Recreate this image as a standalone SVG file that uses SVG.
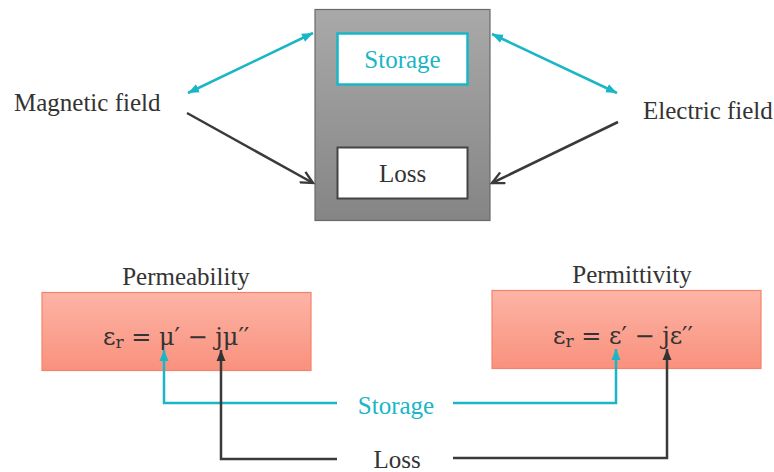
<svg xmlns="http://www.w3.org/2000/svg" width="774" height="472" viewBox="0 0 774 472">
  <defs>
    <linearGradient id="grayFill" x1="0" y1="0" x2="0" y2="1">
      <stop offset="0" stop-color="#a9a9a9"/>
      <stop offset="1" stop-color="#858585"/>
    </linearGradient>
    <linearGradient id="pinkFill" x1="0" y1="0" x2="0" y2="1">
      <stop offset="0" stop-color="#fdb4a6"/>
      <stop offset="1" stop-color="#f9917d"/>
    </linearGradient>
    <marker id="tealHead" markerUnits="userSpaceOnUse" markerWidth="12" markerHeight="10" refX="11" refY="5" orient="auto-start-reverse">
      <path d="M0,0.5 L11,5 L0,9.5 z" fill="#19b6c6"/>
    </marker>
    <marker id="darkHead" markerUnits="userSpaceOnUse" markerWidth="12" markerHeight="10" refX="11" refY="5" orient="auto">
      <path d="M0,0.5 L11,5 L0,9.5 z" fill="#333"/>
    </marker>
    <marker id="darkOpen" markerUnits="userSpaceOnUse" markerWidth="16" markerHeight="14" refX="13" refY="7" orient="auto">
      <path d="M1,1 L13,7 L1,13" fill="none" stroke="#3a3a3a" stroke-width="2.4"/>
    </marker>
  </defs>
  <style>
    text { font-family: 'Liberation Serif', 'Times New Roman', serif; }
    .txt { font-size: 25px; fill: #333; }
    .teal { fill: #19b6c6; }
    .math { font-family: 'DejaVu Serif', 'Liberation Serif', serif; font-size: 24px; fill: #333; }
    .tealLine { fill: none; stroke: #19b6c6; stroke-width: 2.5; }
    .darkLine { fill: none; stroke: #3a3a3a; stroke-width: 2.5; }
  </style>

  <rect width="774" height="472" fill="#ffffff"/>

  <!-- central material block -->
  <g id="material">
    <rect x="315" y="9.5" width="175" height="211" fill="url(#grayFill)" stroke="#6a6a6a" stroke-width="1.2"/>
  </g>
  <g id="storage-box">
    <rect x="337.5" y="33.5" width="130" height="51" fill="#ffffff" stroke="#19b6c6" stroke-width="2.5"/>
    <text class="txt teal" x="402.5" y="68" text-anchor="middle">Storage</text>
  </g>
  <g id="loss-box">
    <rect x="337.5" y="147.5" width="130" height="51" fill="#ffffff" stroke="#444" stroke-width="2"/>
    <text class="txt" x="402.5" y="182" text-anchor="middle">Loss</text>
  </g>

  <!-- field labels -->
  <g id="magnetic-field">
    <text class="txt" x="14" y="111">Magnetic field</text>
  </g>
  <g id="electric-field">
    <text class="txt" x="643" y="119">Electric field</text>
  </g>

  <!-- material parameter boxes -->
  <g id="permeability">
    <text class="txt" x="186" y="285" text-anchor="middle">Permeability</text>
    <rect x="42" y="292.5" width="269" height="78" fill="url(#pinkFill)" stroke="#f3846b" stroke-width="1.2"/>
    <text class="math" x="103" y="345">ε<tspan font-size="17" dy="3">r</tspan><tspan dy="-3"> = μ′ − jμ′′</tspan></text>
  </g>
  <g id="permittivity">
    <text class="txt" x="632" y="283" text-anchor="middle">Permittivity</text>
    <rect x="492" y="290.5" width="269" height="78" fill="url(#pinkFill)" stroke="#f3846b" stroke-width="1.2"/>
    <text class="math" x="553" y="344">ε<tspan font-size="17" dy="3">r</tspan><tspan dy="-3"> = ε′ − jε′′</tspan></text>
  </g>

  <!-- bottom labels -->
  <g id="storage-label">
    <text class="txt teal" x="396" y="414" text-anchor="middle">Storage</text>
  </g>
  <g id="loss-label">
    <text class="txt" x="397" y="468" text-anchor="middle">Loss</text>
  </g>

  <!-- connectors -->
  <g id="connectors">
    <line class="tealLine" x1="188" y1="93" x2="313" y2="33" marker-start="url(#tealHead)" marker-end="url(#tealHead)"/>
    <line class="darkLine" x1="187" y1="113" x2="313" y2="183" marker-end="url(#darkOpen)"/>
    <line class="tealLine" x1="492" y1="34" x2="617" y2="93" marker-start="url(#tealHead)" marker-end="url(#tealHead)"/>
    <line class="darkLine" x1="618" y1="122" x2="492" y2="183" marker-end="url(#darkOpen)"/>

    <polyline class="tealLine" points="337,403 164,403 164,350" marker-end="url(#tealHead)"/>
    <polyline class="tealLine" points="453,403 616,403 616,349" marker-end="url(#tealHead)"/>
    <polyline class="darkLine" points="337,459 221,459 221,350" marker-end="url(#darkHead)"/>
    <polyline class="darkLine" points="453,458 667,458 667,349" marker-end="url(#darkHead)"/>
  </g>
</svg>
